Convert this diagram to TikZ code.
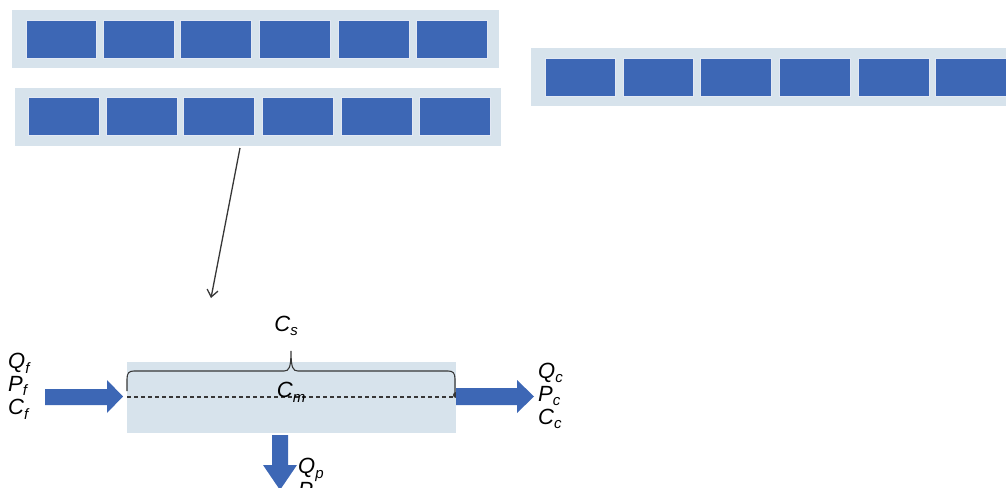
\documentclass[tikz,border=0pt]{standalone}
\usepackage{fontspec}
\setmainfont{Liberation Sans}
\usetikzlibrary{arrows.meta}
\definecolor{blk}{RGB}{61,103,181}
\definecolor{bgc}{RGB}{215,227,236}
\definecolor{memc}{RGB}{215,227,236}
\definecolor{lin}{RGB}{55,55,55}
\newcommand{\vlab}[2]{\textit{#1}\raisebox{-0.4ex}{\fontsize{15}{15}\selectfont\textit{#2}}}
\tikzset{
  rowbg/.style={fill=bgc, draw=none},
  cell/.style={fill=blk, draw=white!85!blk, line width=1.2pt},
  fat/.style={fill=blk, draw=none},
  lab/.style={font=\fontsize{22}{23}\selectfont, inner sep=0pt, anchor=west},
}
\begin{document}
\begin{tikzpicture}[x=1pt,y=-1pt]
\useasboundingbox (0,0) rectangle (1006,487);
\clip (0,0) rectangle (1006,487);
% row 1
\fill[rowbg] (12,10) rectangle (499,68);
\foreach \a/\b [count=\i] in {26/96,103/174,180/251,259/330,338/409,416/487}
  \node[cell, minimum width=\b-\a, minimum height=38, inner sep=0, anchor=north west] (ra\i) at (\a,20) {};
% row 2
\node[rowbg, minimum width=486, minimum height=58, inner sep=0, anchor=north west] (rowb) at (15,88) {};
\foreach \a/\b [count=\i] in {28/99,106/177,183/254,262/333,341/412,419/490}
  \node[cell, minimum width=\b-\a, minimum height=38, inner sep=0, anchor=north west] (rb\i) at (\a,97) {};
% row 3
\fill[rowbg] (531,48) rectangle (1010,106);
\foreach \a/\b [count=\i] in {545/615,623/693,700/771,779/850,858/929,935/1010}
  \node[cell, minimum width=\b-\a, minimum height=38, inner sep=0, anchor=north west] (rc\i) at (\a,58) {};
% pointer arrow
\coordinate (ps) at (240,148);
\coordinate (pe) at (211,298);
\draw[lin, line width=1.3pt, -{Straight Barb[length=7pt,width=11pt]}] (ps) -- (pe);
% membrane
\node[fill=memc, draw=none, minimum width=329, minimum height=71, inner sep=0, anchor=north west] (mem) at (127,362) {};
\draw[lin, line width=1.1pt] (127,391) -- (127,379) .. controls (127,373) and (129,371) .. (134,371)
  -- (284,371) .. controls (289,371) and (291,368) .. (291,351)
  .. controls (291,368) and (293,371) .. (298,371)
  -- (448,371) .. controls (453,371) and (455,373) .. (455,379) -- (455,394);
\draw[lin, dash pattern=on 4pt off 3pt, line width=1.1pt] (127,397) -- (456,397);
\fill[lin] (456,395) circle (3);
\node[lab, anchor=center] (cm) at (291,392) {\vlab{C}{m}};
\node[lab, anchor=center] (cs) at (286,326) {\vlab{C}{s}};
% feed arrow
\fill[fat] (45,389) -- (107,389) -- (107,380) -- (123,396.5) -- (107,413) -- (107,405) -- (45,405) -- cycle;
\node[lab] (lq1) at (8,363) {\vlab{Q}{f}};
\node[lab] (lp1) at (8,386) {\vlab{P}{f}};
\node[lab] (lc1) at (8,409) {\vlab{C}{f}};
% concentrate arrow
\fill[fat] (456,388) -- (517,388) -- (517,380) -- (534,396.5) -- (517,413) -- (517,405) -- (456,405) -- cycle;
\node[lab] (lq2) at (538,373) {\vlab{Q}{c}};
\node[lab] (lp2) at (538,396) {\vlab{P}{c}};
\node[lab] (lc2) at (538,419) {\vlab{C}{c}};
% permeate arrow
\fill[fat] (272,435) -- (288,435) -- (288,465) -- (297,465) -- (280,490) -- (263,465) -- (272,465) -- cycle;
\node[lab] (lq3) at (298,470) {\vlab{Q}{p}};
\node[lab] (lp3) at (298,494) {\vlab{P}{p}};
\end{tikzpicture}
\end{document}
